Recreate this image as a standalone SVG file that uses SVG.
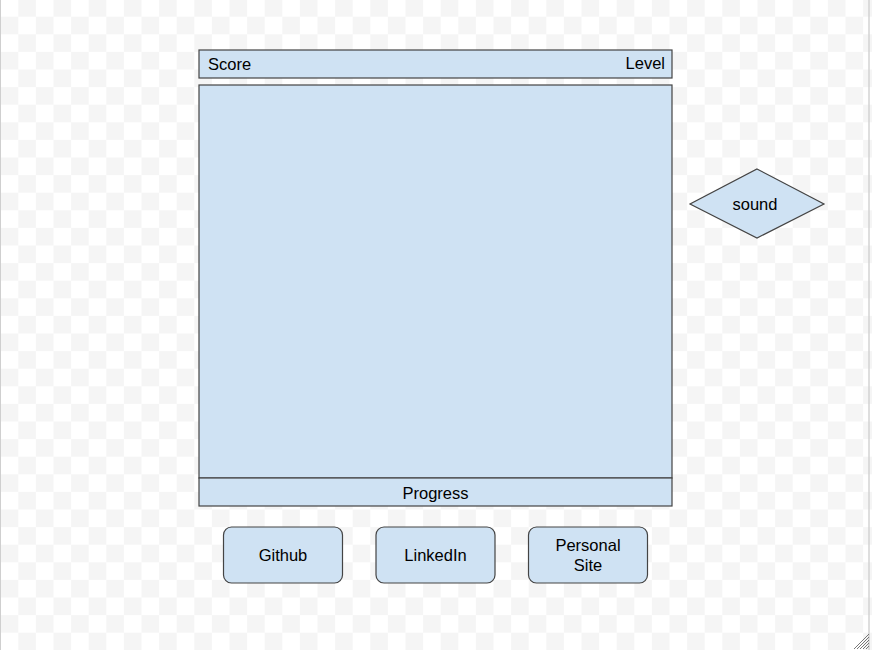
<svg xmlns="http://www.w3.org/2000/svg" width="872" height="650" viewBox="0 0 872 650">
<defs>
<pattern id="checker" x="0.7" y="-0.9" width="35.2" height="35.2" patternUnits="userSpaceOnUse">
<rect width="35.2" height="35.2" fill="#ffffff"/>
<rect x="17.6" y="0" width="17.6" height="17.6" fill="#f5f5f5"/>
<rect x="0" y="17.6" width="17.6" height="17.6" fill="#f5f5f5"/>
</pattern>
</defs>
<style>
.box{fill:#cfe2f3;stroke:#444444;stroke-width:1.2}
.t{font-family:"Liberation Sans",Arial,sans-serif;font-size:16.5px;fill:#000}
.c{text-anchor:middle}
</style>
<rect width="872" height="650" fill="url(#checker)"/>
<line x1="0.5" y1="0" x2="0.5" y2="650" stroke="#cfcfcf" stroke-width="1"/>
<line x1="869" y1="0" x2="869" y2="650" stroke="#d0d0d0" stroke-width="1.4"/>
<g id="resize-grip" stroke="#555" stroke-width="0.8">
<line x1="854" y1="649" x2="869" y2="634"/>
<line x1="857" y1="649" x2="869" y2="637"/>
<line x1="860" y1="649" x2="869" y2="640"/>
<line x1="863" y1="649" x2="869" y2="643"/>
<line x1="866" y1="649" x2="869" y2="646"/>
</g>
<g id="header">
<rect class="box" x="199" y="50" width="473" height="28"/>
<text class="t" x="208" y="70">Score</text>
<text class="t" x="665" y="69" text-anchor="end">Level</text>
</g>
<g id="game-area">
<rect class="box" x="199" y="85" width="473" height="393"/>
</g>
<g id="progress">
<rect class="box" x="199" y="478" width="473" height="28"/>
<text class="t c" x="435.5" y="498.5">Progress</text>
</g>
<g id="sound">
<polygon class="box" points="757,169 824,204 757,238 690,204"/>
<text class="t c" x="755" y="210">sound</text>
</g>
<g id="github">
<rect class="box" x="223.5" y="527" width="119" height="56" rx="8"/>
<text class="t c" x="283" y="561">Github</text>
</g>
<g id="linkedin">
<rect class="box" x="376" y="527" width="119" height="56" rx="8"/>
<text class="t c" x="435.5" y="561">LinkedIn</text>
</g>
<g id="personal-site">
<rect class="box" x="528.5" y="527" width="119" height="56" rx="8"/>
<text class="t c" x="588" y="551">Personal</text>
<text class="t c" x="588" y="571">Site</text>
</g>
<g id="connectors"/>
</svg>
